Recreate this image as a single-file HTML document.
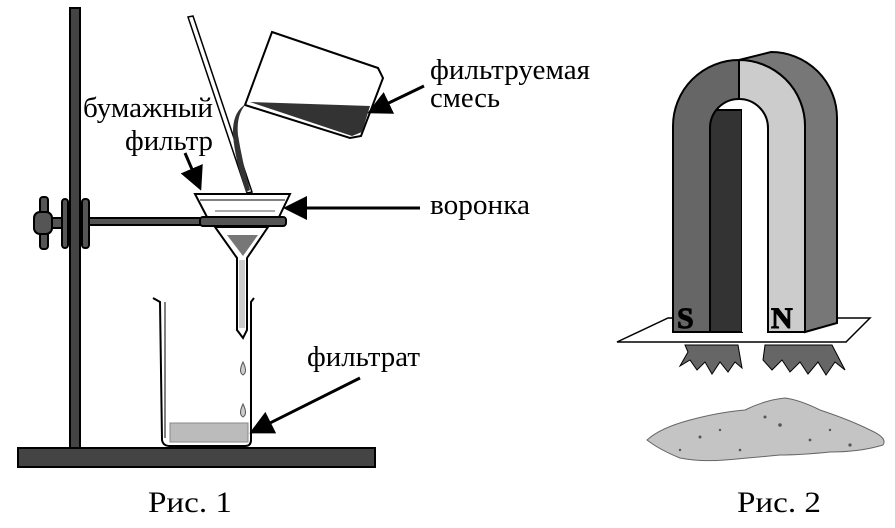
<!DOCTYPE html>
<html><head><meta charset="utf-8"><style>
body{margin:0;background:#fff;}
svg{display:block}
text{font-family:"Liberation Serif",serif;fill:#000}
</style></head><body>
<svg width="895" height="528" viewBox="0 0 895 528" xmlns="http://www.w3.org/2000/svg">
<defs>
<marker id="ah" markerWidth="8" markerHeight="8" refX="7" refY="4" orient="auto" markerUnits="strokeWidth">
<path d="M0,0 L8,4 L0,8 z" fill="#000"/></marker>
</defs>
<!-- stand -->
<rect x="70" y="8" width="10" height="440" fill="#444" stroke="#000" stroke-width="2"/>
<rect x="18" y="448" width="357" height="19" fill="#444" stroke="#000" stroke-width="2"/>
<!-- clamp -->
<rect x="40" y="197" width="8" height="52" rx="3" fill="#555" stroke="#000" stroke-width="2"/>
<rect x="34" y="212" width="18" height="22" rx="6" fill="#555" stroke="#000" stroke-width="2"/>
<rect x="52" y="218" width="10" height="10" fill="#555" stroke="#000" stroke-width="2"/>
<rect x="62" y="199" width="6" height="49" rx="3" fill="#555" stroke="#000" stroke-width="2"/>
<rect x="82" y="199" width="7" height="49" rx="3" fill="#555" stroke="#000" stroke-width="2"/>
<rect x="89" y="218" width="112" height="7" fill="#555" stroke="#000" stroke-width="2"/>
<!-- funnel top -->
<polygon points="195,194 290,194 279,217 207,217" fill="#fff" stroke="#000" stroke-width="2"/>
<line x1="200" y1="200" x2="285" y2="200" stroke="#000" stroke-width="1"/>
<line x1="215" y1="211" x2="275" y2="211" stroke="#aaa" stroke-width="2"/>
<rect x="200" y="217" width="86" height="9" rx="3" fill="#555" stroke="#000" stroke-width="2"/>
<!-- funnel bottom -->
<polygon points="215,227 268,227 247,258 247,330 243,338 237,330 237,258" fill="#fff" stroke="#000" stroke-width="2"/>
<polygon points="227,235 258,235 243,256" fill="#777"/>
<rect x="239" y="260" width="6" height="68" fill="#ccc"/>
<!-- beaker -->
<path d="M153,298 L160,302 L162,440 Q163,446 170,446 L245,446 Q251,446 251,440 L251,302 L254,298" fill="none" stroke="#000" stroke-width="2"/>
<path d="M165,302 L165,438" stroke="#000" stroke-width="1" fill="none"/>
<rect x="170" y="423" width="78" height="19" fill="#bbb" stroke="#888" stroke-width="1"/>
<path d="M243,362 Q238,372 243,375 Q248,372 243,362 z" fill="#ccc" stroke="#555"/>
<path d="M243,404 Q238,414 243,417 Q248,414 243,404 z" fill="#ccc" stroke="#555"/>
<!-- glass rod -->
<polygon points="188,17 193,16 252,192 247,193" fill="#fff" stroke="#000" stroke-width="1.5"/>
<!-- pouring beaker -->
<polygon points="272,32 378,68 383,78 361,136 350,138 245,105" fill="#fff" stroke="#000" stroke-width="2"/>
<polygon points="250,102 370,106 362,132 352,136" fill="#333"/>
<path d="M246,104 Q236,115 238,135 Q242,160 250,190 L246,192 Q235,160 233,135 Q232,112 246,104 z" fill="#333"/>
<!-- labels -->
<g font-size="28">
<text x="83" y="117" textLength="130" lengthAdjust="spacingAndGlyphs">бумажный</text>
<text x="125" y="150" textLength="88" lengthAdjust="spacingAndGlyphs">фильтр</text>
<text x="430" y="79" textLength="160" lengthAdjust="spacingAndGlyphs">фильтруемая</text>
<text x="430" y="107" textLength="70" lengthAdjust="spacingAndGlyphs">смесь</text>
<text x="430" y="214" textLength="100" lengthAdjust="spacingAndGlyphs">воронка</text>
<text x="307" y="366" textLength="113" lengthAdjust="spacingAndGlyphs">фильтрат</text>
</g>
<g stroke="#000" stroke-width="3" fill="none">
<line x1="185" y1="153" x2="200" y2="188" marker-end="url(#ah)"/>
<line x1="424" y1="86" x2="370" y2="112" marker-end="url(#ah)"/>
<line x1="420" y1="208" x2="286" y2="208" marker-end="url(#ah)"/>
<line x1="360" y1="378" x2="252" y2="432" marker-end="url(#ah)"/>
</g>
<text x="148" y="512" font-size="30" textLength="84" lengthAdjust="spacingAndGlyphs">Рис. 1</text>
<text x="737" y="512" font-size="30" textLength="84" lengthAdjust="spacingAndGlyphs">Рис. 2</text>
<!-- magnet -->
<polygon points="617,342 668,318 870,318 846,342" fill="#fff" stroke="#000" stroke-width="1.5"/>
<path d="M739,60 L771,52 A66,66 0 0 1 837,118 L837,323 L805,332 L805,126 A66,66 0 0 0 739,60 Z" fill="#777" stroke="#000" stroke-width="2"/>
<rect x="710" y="110" width="32" height="222" fill="#333" stroke="#000" stroke-width="2"/>
<rect x="742" y="104" width="26" height="228" fill="#fff"/>
<path d="M673,332 L673,126 A66,66 0 0 1 739,60 L739,99 A29,29 0 0 0 710,128 L710,332 Z" fill="#666" stroke="#000" stroke-width="2"/>
<path d="M739,60 A66,66 0 0 1 805,126 L805,332 L768,332 L768,128 A29,29 0 0 0 739,99 Z" fill="#ccc" stroke="#000" stroke-width="2"/>
<text x="677" y="328" font-size="30" font-weight="bold" fill="#fff" stroke="#000" stroke-width="1">S</text>
<text x="771" y="328" font-size="30" font-weight="bold" fill="#fff" stroke="#000" stroke-width="1">N</text>
<!-- filings -->
<path d="M685,345 L738,345 L742,368 L735,362 L728,372 L720,362 L712,374 L705,362 L697,370 L690,360 L680,366 L688,352 z" fill="#666" stroke="#000"/>
<path d="M765,345 L832,345 L845,370 L835,362 L826,375 L818,362 L808,374 L800,362 L790,372 L782,360 L772,370 L763,360 z" fill="#666" stroke="#000"/>
<!-- sand -->
<path d="M647,440 Q660,428 690,420 Q720,412 745,410 Q765,400 785,398 Q800,400 820,410 Q850,420 870,430 Q888,438 883,445 Q860,452 830,452 Q800,455 780,455 Q750,458 725,460 Q700,462 680,458 Q660,450 647,440 z" fill="#c4c4c4" stroke="#666"/>
<g fill="#555"><circle cx="700" cy="437" r="1.5"/><circle cx="720" cy="430" r="1.2"/><circle cx="765" cy="417" r="1.5"/><circle cx="780" cy="425" r="1.8"/><circle cx="810" cy="440" r="1.4"/><circle cx="850" cy="445" r="1.6"/><circle cx="680" cy="450" r="1.2"/><circle cx="740" cy="450" r="1.3"/><circle cx="830" cy="430" r="1.2"/></g>
</svg>
</body></html>
